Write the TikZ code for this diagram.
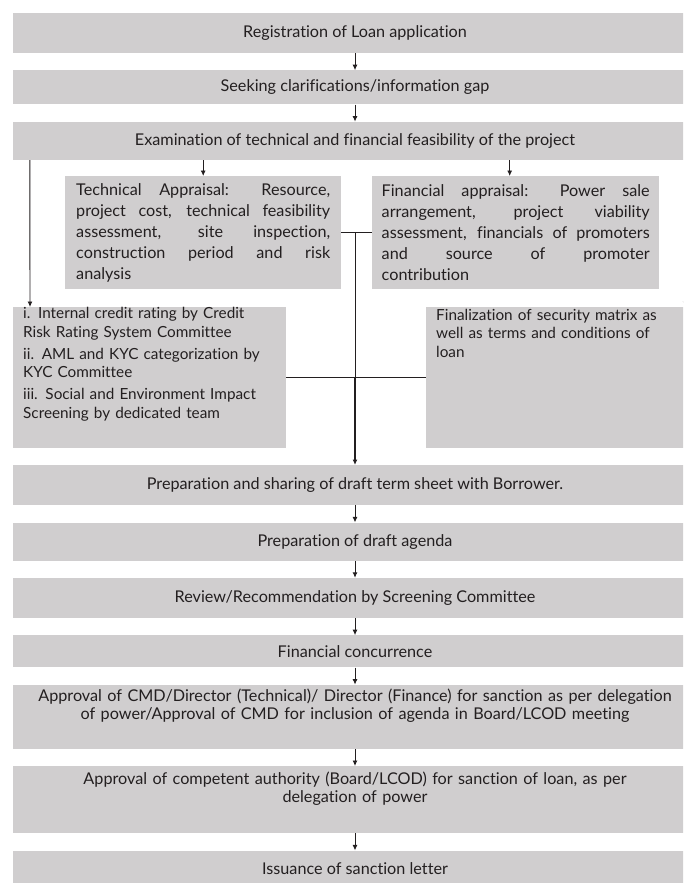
\documentclass[tikz,border=0pt]{standalone}
\usepackage{fontspec}
\setmainfont{Lato}[Ligatures=NoCommon]
\usepackage{xcolor}
\usepackage{tikz}
\usetikzlibrary{positioning,arrows.meta}
\definecolor{boxgray}{RGB}{208,206,207}
\definecolor{inkgray}{RGB}{35,31,32}
\tikzset{
  stepbox/.style ={rectangle, fill=boxgray, align=center, minimum width=684pt, inner sep=0pt, text=inkgray, font=\fontsize{16.2}{18.5}\selectfont},
  apprbox/.style ={rectangle, fill=boxgray, align=justify, minimum height=113pt, inner ysep=0pt, text=inkgray, font=\fontsize{16.2}{21}\selectfont},
  sidebox/.style ={rectangle, fill=boxgray, align=left, minimum height=141pt, inner ysep=0pt, text=inkgray, font=\fontsize{15.3}{18.5}\selectfont},
  arr/.style     ={-{Latex[length=5.5pt,width=5pt]}, line width=0.9pt, draw=inkgray},
  link/.style    ={line width=0.9pt, draw=inkgray},
  trunk/.style   ={-{Latex[length=5.5pt,width=5pt]}, line width=2pt, draw=inkgray},
}
\begin{document}
\begin{tikzpicture}[x=1pt,y=1pt]
  \clip (0,0) rectangle (683,-883);
  \fill[white] (0,0) rectangle (683,-883);

  \node[stepbox, minimum height=40pt] (reg) at (355,-33) {Registration of Loan application};
  \node[stepbox, minimum height=34pt, below=17pt of reg] (seek) {Seeking clarifications/information gap};
  \node[stepbox, minimum height=38pt, below=17pt of seek] (exam) {Examination of technical and financial feasibility of the project};

  \node[apprbox, text width=254pt, inner xsep=11pt, anchor=north west] (tech) at (65,-176)
    {Technical Appraisal: Resource,\linebreak project cost, technical feasibility\linebreak
     assessment, site inspection,\linebreak construction period and risk\linebreak analysis};
  \node[apprbox, text width=268pt, inner xsep=9.5pt, anchor=north west] (fin) at (372,-176)
    {Financial appraisal: Power sale\linebreak arrangement, project viability\linebreak
     assessment, financials of promoters\linebreak and source of promoter\linebreak contribution};

  \node[sidebox, text width=253pt, inner xsep=10pt, anchor=north west] (screen) at (13,-307)
    {i. Internal credit rating by Credit\\ Risk Rating System Committee\\[3.5pt]
     ii. AML and KYC categorization by\\ KYC Committee\\[3.5pt]
     iii. Social and Environment Impact\\ Screening by dedicated team\par\vspace{27pt}};
  \node[sidebox, text width=254pt, inner xsep=10pt, anchor=north west] (matrix) at (426,-307)
    {Finalization of security matrix as\\ well as terms and conditions of\\ loan\par\vspace{89pt}};

  \node[stepbox, minimum height=40pt, anchor=north] (prep) at (355,-465) {Preparation and sharing of draft term sheet with Borrower.};
  \node[stepbox, minimum height=38pt, below=17pt of prep] (agenda) {Preparation of draft agenda};
  \node[stepbox, minimum height=40pt, below=17pt of agenda] (review) {Review/Recommendation by Screening Committee};
  \node[stepbox, minimum height=32pt, below=17pt of review] (concur) {Financial concurrence};
  \node[stepbox, minimum height=64pt, text width=684pt, below=17pt of concur] (cmd)
    {Approval of CMD/Director (Technical)/ Director (Finance) for sanction as per delegation\\
     of power/Approval of CMD for inclusion of agenda in Board/LCOD meeting\par\vspace{22pt}};
  \node[stepbox, minimum height=67pt, text width=684pt, below=17pt of cmd] (auth)
    {Approval of competent authority (Board/LCOD) for sanction of loan, as per\\
     delegation of power\par\vspace{22pt}};
  \node[stepbox, minimum height=35pt, below=17pt of auth] (issue) {Issuance of sanction letter};

  \draw[arr] (reg) -- (seek);
  \draw[arr] (seek) -- (exam);
  \draw[arr] (exam.south -| tech.north) -- (tech.north);
  \draw[arr] ([xshift=-6pt]exam.south -| fin.north) -- ([xshift=-6pt]fin.north);
  \draw[arr] ([xshift=17pt]exam.south west) -- ([xshift=17pt]screen.north west);
  \draw[arr] ([xshift=-12pt]exam.south east) -- ([xshift=-12pt]exam.south east |- matrix.north);

  \draw[link] (tech.east) -- (fin.west);
  \draw[link] (screen.east) -- (matrix.west);
  \draw[link] (tech.east -| prep.north) -- (screen.east -| prep.north);
  \draw[trunk] (screen.east -| prep.north) -- (prep.north);

  \draw[arr] (prep) -- (agenda);
  \draw[arr] (agenda) -- (review);
  \draw[arr] (review) -- (concur);
  \draw[arr] (concur) -- (cmd);
  \draw[arr] (cmd) -- (auth);
  \draw[arr] (auth) -- (issue);
\end{tikzpicture}
\end{document}
